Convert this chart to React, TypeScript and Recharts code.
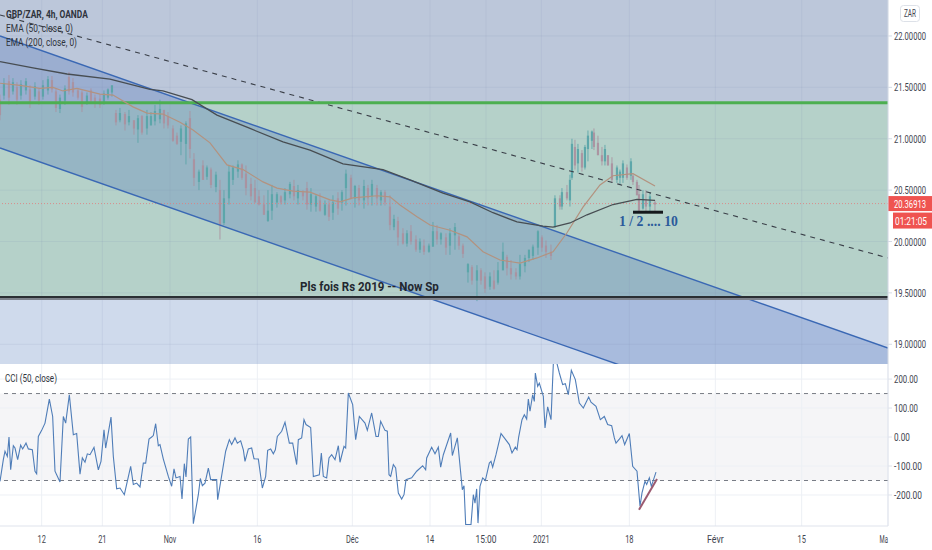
import React from "react";
import { ComposedChart, Line, Bar, Area, XAxis, YAxis, ReferenceArea, ReferenceLine, ReferenceDot } from "recharts";

const FONT = "Roboto, 'Liberation Sans', sans-serif";
const timeTicks = [125, 307, 510, 772, 1057, 1290, 1458, 1624, 1888, 2146, 2405, 2664];
const timeLabels = ["12", "21", "Nov", "16", "Déc", "14", "15:00", "2021", "18", "Févr", "15", "Ma"];
const priceTicks = [19, 19.5, 20, 20.5, 21, 21.5, 22];
const cciTicks = [-200, -100, 0, 100, 200];

// [time, open, close, low, high]
const candles = [
[0,21.38,21.23,21.18,21.43],[12,21.42,21.54,21.38,21.59],[27,21.56,21.40,21.33,21.62],[39,21.46,21.55,21.43,21.59],[51,21.50,21.38,21.33,21.55],[63,21.42,21.53,21.38,21.57],[78,21.47,21.56,21.43,21.59],[90,21.48,21.34,21.30,21.52],[105,21.41,21.51,21.38,21.55],[117,21.46,21.37,21.33,21.49],[129,21.41,21.52,21.38,21.57],[144,21.47,21.58,21.43,21.61],[156,21.57,21.48,21.45,21.61],[168,21.46,21.30,21.26,21.49],[180,21.29,21.40,21.25,21.43],[195,21.37,21.49,21.33,21.52],[207,21.60,21.46,21.43,21.65],[219,21.55,21.45,21.41,21.59],[234,21.47,21.40,21.38,21.49],[246,21.45,21.31,21.26,21.47],[261,21.34,21.42,21.33,21.45],[273,21.47,21.37,21.35,21.49],[285,21.40,21.34,21.30,21.43],[300,21.39,21.33,21.30,21.43],[312,21.36,21.44,21.33,21.47],[324,21.40,21.48,21.38,21.49],[336,21.45,21.52,21.41,21.52],
[348,21.25,21.16,21.13,21.28],[360,21.18,21.25,21.16,21.30],[375,21.24,21.14,21.08,21.26],[387,21.16,21.22,21.13,21.28],[402,21.18,21.10,21.04,21.18],[414,21.09,21.20,20.96,21.23],[426,21.22,21.06,21.04,21.23],[441,21.10,21.22,21.04,21.28],[453,21.13,21.22,21.13,21.26],[465,21.17,21.27,21.13,21.33],[480,21.19,21.29,21.15,21.38],[492,21.28,21.15,21.10,21.28],[504,21.22,21.13,21.10,21.26],[519,21.10,20.98,20.97,21.13],[531,21.03,20.95,20.94,21.06],[543,20.97,21.10,20.84,21.13],[558,20.95,21.15,20.75,21.17],[570,21.20,20.90,20.81,21.27],[582,20.80,20.62,20.54,20.86],[597,20.58,20.68,20.50,20.70],[609,20.74,20.60,20.60,20.79],[621,20.63,20.72,20.60,20.74],[633,20.70,20.55,20.52,20.72],[648,20.53,20.65,20.48,20.68],[660,20.50,20.16,20.02,20.60],[672,20.18,20.42,20.16,20.50],[687,20.42,20.68,20.36,20.74],[699,20.60,20.72,20.55,20.74],[714,20.68,20.75,20.62,20.79],[726,20.75,20.62,20.60,20.76],[738,20.66,20.52,20.45,20.74],[753,20.56,20.44,20.40,20.62],[765,20.52,20.38,20.38,20.60],[777,20.44,20.36,20.35,20.50],[792,20.36,20.26,20.26,20.45],[804,20.20,20.30,20.19,20.50],[816,20.30,20.46,20.21,20.55],[831,20.38,20.46,20.33,20.48],[843,20.44,20.38,20.36,20.45],[855,20.40,20.48,20.36,20.52],[870,20.46,20.56,20.42,20.58],[882,20.54,20.44,20.40,20.60],[894,20.42,20.50,20.36,20.55],[909,20.48,20.44,20.40,20.50],[921,20.52,20.36,20.31,20.58],[933,20.36,20.46,20.29,20.52],[948,20.34,20.44,20.29,20.46],[960,20.40,20.30,20.29,20.47],[975,20.26,20.36,20.25,20.40],[987,20.36,20.24,20.20,20.40],[999,20.28,20.38,20.21,20.45],[1014,20.42,20.32,20.26,20.48],[1026,20.38,20.48,20.30,20.50],[1038,20.52,20.66,20.35,20.70],[1053,20.62,20.42,20.41,20.65],[1065,20.42,20.54,20.33,20.55],[1077,20.52,20.40,20.35,20.55],[1092,20.40,20.54,20.32,20.60],[1104,20.52,20.42,20.35,20.55],[1116,20.44,20.56,20.35,20.60],[1131,20.52,20.42,20.35,20.55],[1143,20.40,20.48,20.35,20.50],[1155,20.48,20.38,20.35,20.50],[1170,20.34,20.16,20.11,20.45],[1182,20.14,20.22,20.11,20.26],[1194,20.20,20.04,19.96,20.24],[1209,20.08,19.98,19.97,20.13],[1221,19.98,20.08,19.95,20.11],[1233,20.10,20.00,19.97,20.16],[1248,20.02,19.92,19.90,20.06],[1260,19.92,20.00,19.89,20.03],[1272,19.96,19.90,19.87,20.02],[1287,19.90,19.96,19.89,19.98],[1299,19.95,20.10,19.95,20.19],[1311,20.10,20.02,19.97,20.16],[1323,20.02,20.08,19.97,20.09],[1338,20.04,19.94,19.87,20.08],[1350,19.96,20.08,19.87,20.13],[1365,20.06,20.14,19.92,20.18],[1377,20.05,19.96,19.92,20.08],[1389,19.96,19.88,19.84,19.98],[1404,19.70,19.78,19.60,19.79],[1416,19.75,19.62,19.58,19.77],[1431,19.62,19.72,19.42,19.77],[1443,19.72,19.62,19.58,19.74],[1455,19.66,19.54,19.50,19.70],[1470,19.56,19.66,19.53,19.70],[1482,19.62,19.54,19.53,19.72],[1494,19.60,19.72,19.58,19.80],[1509,19.72,19.90,19.72,19.99],[1521,19.85,19.74,19.67,19.87],[1533,19.74,19.68,19.63,19.82],[1548,19.70,19.66,19.63,19.74],[1560,19.66,19.78,19.63,19.87],[1575,19.76,19.84,19.70,19.87],[1587,19.84,19.92,19.80,19.92],[1599,19.86,19.95,19.82,19.97],[1614,19.94,20.10,19.87,20.11],[1626,20.04,19.94,19.90,20.06],[1638,19.96,19.90,19.84,20.01],[1653,19.90,19.86,19.82,19.97],[1665,20.14,20.42,20.13,20.45],[1680,20.42,20.34,20.31,20.45],[1686,20.34,20.48,20.31,20.52],[1701,20.48,20.42,20.40,20.55],[1710,20.40,20.60,20.34,20.65],[1716,20.62,20.95,20.60,21.00],[1725,20.92,20.74,20.70,20.99],[1734,20.76,20.90,20.67,20.95],[1746,20.86,20.72,20.68,20.89],[1755,20.72,20.92,20.70,20.94],[1764,20.90,21.03,20.78,21.08],[1776,20.98,21.07,20.90,21.08],[1782,21.06,20.92,20.89,21.10],[1794,20.96,20.84,20.84,21.03],[1806,20.84,20.78,20.74,20.92],[1815,20.78,20.90,20.74,20.94],[1824,20.84,20.74,20.74,20.84],[1836,20.76,20.60,20.57,20.82],[1851,20.60,20.72,20.57,20.74],[1860,20.62,20.68,20.55,20.70],[1869,20.62,20.76,20.57,20.79],[1881,20.72,20.62,20.60,20.75],[1893,20.64,20.78,20.60,20.81],[1899,20.64,20.58,20.55,20.65],[1911,20.58,20.45,20.45,20.60],[1917,20.46,20.30,20.29,20.55],[1929,20.32,20.46,20.31,20.50],[1938,20.40,20.34,20.29,20.50],[1950,20.34,20.44,20.29,20.48],[1965,20.38,20.36,20.29,20.40],
];

const ema200 = [[0,21.75],[99,21.69],[201,21.63],[330,21.58],[450,21.48],[489,21.465],[576,21.38],[651,21.23],[750,21.10],[849,20.97],[930,20.89],[1029,20.755],[1149,20.70],[1230,20.60],[1329,20.47],[1410,20.385],[1479,20.28],[1551,20.19],[1629,20.15],[1659,20.14],[1710,20.18],[1761,20.26],[1839,20.36],[1911,20.41],[1965,20.40]];
const ema50 = [[0,21.54],[60,21.52],[120,21.49],[159,21.50],[189,21.465],[231,21.49],[300,21.435],[339,21.425],[399,21.31],[441,21.25],[489,21.24],[540,21.16],[579,21.085],[630,20.96],[681,20.745],[729,20.70],[789,20.58],[831,20.52],[879,20.49],[930,20.48],[990,20.405],[1020,20.385],[1059,20.425],[1131,20.445],[1170,20.435],[1200,20.355],[1251,20.24],[1290,20.16],[1350,20.11],[1401,20.045],[1449,19.90],[1500,19.82],[1560,19.79],[1611,19.84],[1659,19.90],[1701,20.085],[1749,20.335],[1800,20.55],[1839,20.64],[1899,20.66],[1965,20.54]];
const channelUpper = [[0,22.0],[2664,18.964]];
const channelLower = [[0,20.91],[2664,17.884]];
const trendDashed = [[0,22.204],[2664,19.84]];

const cciPoints = [[0,-153],[10,-78],[15,-49],[22,-67],[27,0],[32,-113],[40,-30],[45,-38],[53,-78],[62,-28],[68,-41],[78,-21],[85,-41],[97,-44],[105,-118],[110,-127],[115,2],[125,23],[135,48],[148,131],[158,71],[165,-118],[180,-155],[190,71],[197,48],[208,146],[220,8],[230,12],[240,-128],[247,-72],[255,-87],[262,-58],[270,-61],[282,-36],[295,-113],[303,-84],[312,25],[317,-38],[333,69],[340,-67],[350,-179],[360,-176],[373,-199],[392,-101],[400,-164],[410,-159],[420,-172],[430,-90],[437,-90],[447,-7],[455,0],[460,5],[467,46],[475,-30],[480,-26],[490,-76],[505,-136],[515,-170],[522,-110],[528,-141],[540,-136],[546,-214],[553,-92],[558,-138],[565,-7],[572,0],[580,-299],[595,-199],[601,-143],[607,-168],[615,-159],[625,-107],[632,-147],[650,-147],[653,-216],[665,-133],[677,-49],[688,-9],[695,-26],[705,-3],[712,-21],[722,-13],[730,-44],[735,-84],[745,-41],[755,-38],[762,-75],[775,-76],[787,-176],[797,-136],[803,-46],[812,-41],[820,-58],[826,-44],[832,2],[845,20],[855,51],[868,-21],[878,-21],[890,-95],[895,-9],[905,-3],[912,60],[918,43],[932,33],[940,-136],[958,-130],[964,-55],[970,-136],[980,-141],[987,-72],[995,-61],[1005,-78],[1015,-30],[1020,-87],[1032,-32],[1037,-38],[1045,152],[1058,112],[1067,-9],[1078,71],[1095,48],[1102,23],[1115,83],[1128,2],[1135,2],[1142,54],[1155,23],[1162,20],[1167,-130],[1172,-136],[1180,-95],[1187,-107],[1195,-193],[1205,-214],[1212,-199],[1218,-147],[1235,-141],[1250,-118],[1268,-99],[1277,-113],[1280,-72],[1295,-35],[1305,-58],[1315,-35],[1322,-104],[1330,-61],[1352,14],[1357,-64],[1372,-3],[1387,-182],[1392,-168],[1397,-302],[1413,-302],[1420,-199],[1425,-228],[1430,-179],[1434,-297],[1440,-170],[1448,-141],[1456,-150],[1468,-90],[1473,-84],[1478,-104],[1488,-61],[1503,12],[1513,-3],[1528,-26],[1536,-55],[1546,-35],[1551,-44],[1556,0],[1566,60],[1573,77],[1580,62],[1585,131],[1590,89],[1598,146],[1603,123],[1606,221],[1613,175],[1618,186],[1630,140],[1635,31],[1643,104],[1653,60],[1660,253],[1668,267],[1678,221],[1688,181],[1696,184],[1705,146],[1714,230],[1726,198],[1738,117],[1750,100],[1766,138],[1773,120],[1788,106],[1801,60],[1813,71],[1823,43],[1835,39],[1843,-3],[1848,-21],[1858,-7],[1866,5],[1874,-26],[1888,12],[1898,-101],[1911,-118],[1920,-239],[1926,-193],[1935,-153],[1940,-164],[1948,-141],[1954,-170],[1968,-121]];
const cciTrend = [[1917,-251],[1971,-145]];

function buildPriceRows() {
  const map = new Map<number, any>();
  const row = (t: number) => { if (!map.has(t)) map.set(t, { t }); return map.get(t); };
  candles.forEach(([t, o, c, l, h]) => Object.assign(row(t), { o, c, l, h }));
  ema200.forEach(([t, v]) => { row(t).ema200 = v; });
  ema50.forEach(([t, v]) => { row(t).ema50 = v; });
  channelUpper.forEach(([t, v]) => { row(t).up = v; });
  channelLower.forEach(([t, v]) => { row(t).lo = v; });
  trendDashed.forEach(([t, v]) => { row(t).dash = v; });
  return [...map.values()].sort((a, b) => a.t - b.t);
}
const priceRows = buildPriceRows();
const channelRows = channelUpper.map(([t, v], i) => ({ t, band: [channelLower[i][1], v] }));
const cciRows = cciPoints.map(([t, v]) => ({ t, cci: v }));
const cciTrendRows = cciTrend.map(([t, v]) => ({ t, tr: v }));

const measureCtx = document.createElement("canvas").getContext("2d") as CanvasRenderingContext2D;
const FitText = ({ x, y, w, size = 11, weight = 400, family = FONT, fill = "#3f4550", anchor = "start", children }: any) => {
  measureCtx.font = `${weight} ${size}px ${family}`;
  const sx = w / measureCtx.measureText(children).width;
  return (
    <text transform={`translate(${x} ${y}) scale(${sx.toFixed(3)} 1)`} fontSize={size} fontWeight={weight} fontFamily={family} fill={fill} textAnchor={anchor}>
      {children}
    </text>
  );
};

const Candle = (p: any) => {
  const r = p.payload;
  if (!r || r.h == null) return null;
  const cx = p.x + p.width / 2;
  const top = Math.min(p.y, p.y + p.height);
  const H = Math.abs(p.height);
  const k = H / (r.h - r.l || 1);
  const by = top + (r.h - Math.max(r.o, r.c)) * k;
  const bh = Math.max(1, Math.abs(r.o - r.c) * k);
  const col = r.c >= r.o ? "#5aa5a8" : "#aa919f";
  return (
    <g>
      <rect x={cx - 0.5} y={top} width={1} height={H} fill={col} opacity={0.85} />
      <rect x={cx - 1.1} y={by} width={2.2} height={bh} fill={col} opacity={0.92} />
    </g>
  );
};

const PriceTick = (p: any) => <FitText x={p.x} y={p.y + 4} w={32}>{p.payload.value.toFixed(5)}</FitText>;
const CciTick = (p: any) => {
  const s = p.payload.value.toFixed(2);
  return <FitText x={p.x} y={p.y + 4} w={s.length * 4}>{s}</FitText>;
};
const TimeTick = (p: any) => {
  const s = timeLabels[timeTicks.indexOf(p.payload.value)];
  const last = p.payload.value === 2664;
  return <FitText x={p.x} y={p.y + 9} w={s.length * 4.2} anchor={last ? "end" : "middle"}>{s}</FitText>;
};

const LastPriceLabel = (p: any) => {
  const y = p.viewBox.y;
  return (
    <g>
      <rect x={888} y={y - 7.5} width={44} height={15} fill="#ef5350" />
      <FitText x={894} y={y + 4} w={32} fill="#fff">20.36913</FitText>
      <rect x={893} y={y + 9} width={39} height={16} fill="#ef5350" />
      <FitText x={895} y={y + 21} w={32} fill="#fff">01:21:05</FitText>
    </g>
  );
};
const NoteA = (p: any) => <FitText x={p.viewBox.x} y={p.viewBox.y + 4} w={139} size={12} weight={700} fill="#23272f">Pls fois Rs 2019 -- Now Sp</FitText>;
const NoteB = (p: any) => <FitText x={p.viewBox.x} y={p.viewBox.y + 5} w={59} size={14} weight={700} family="'Liberation Serif', serif" fill="#2b5a9b">1 / 2 .... 10</FitText>;

const gridStroke = "rgba(120,140,175,0.13)";

export default function App() {
  return (
    <div style={{ position: "absolute", left: 0, top: 0, width: 932, height: 550, background: "#fff", overflow: "hidden" }}>
      <div style={{ position: "absolute", left: 0, top: 0 }}>
        <ComposedChart width={932} height={364} data={priceRows} margin={{ top: 0, right: 0, bottom: 0, left: 0 }}>
          <XAxis type="number" dataKey="t" domain={[0, 2664]} hide allowDataOverflow />
          <YAxis orientation="right" width={44} domain={[18.808, 22.35]} ticks={priceTicks} tick={<PriceTick />} tickSize={4} tickMargin={2} interval={0} stroke="#d6dce6" allowDataOverflow />
          <ReferenceArea y1={21.35} y2={22.35} fill="#bcc7da" fillOpacity={1} stroke="none" />
          <ReferenceArea y1={19.46} y2={21.35} fill="#b5d1c9" fillOpacity={1} stroke="none" />
          <ReferenceArea y1={18.808} y2={19.46} fill="#cfdaec" fillOpacity={1} stroke="none" />
          {timeTicks.map((t) => <ReferenceLine key={"vx" + t} x={t} stroke={gridStroke} />)}
          {priceTicks.map((p) => <ReferenceLine key={"hy" + p} y={p} stroke={gridStroke} />)}
          <Area data={channelRows} dataKey="band" type="linear" stroke="none" fill="rgb(78,115,185)" fillOpacity={0.3} dot={false} activeDot={false} isAnimationActive={false} connectNulls />
          <ReferenceLine y={20.36913} stroke="#e27d7d" strokeDasharray="1 2" strokeOpacity={0.8} label={<LastPriceLabel />} />
          <Line dataKey="up" stroke="#3a68b4" strokeWidth={1.4} dot={false} activeDot={false} connectNulls isAnimationActive={false} />
          <Line dataKey="lo" stroke="#3a68b4" strokeWidth={1.4} dot={false} activeDot={false} connectNulls isAnimationActive={false} />
          <Line dataKey="dash" stroke="#3a3f48" strokeWidth={1.1} strokeDasharray="5 5" dot={false} activeDot={false} connectNulls isAnimationActive={false} />
          <ReferenceLine y={21.35} stroke="#4caf50" strokeWidth={3} />
          <ReferenceLine y={19.44} stroke="#7d828c" strokeWidth={2} />
          <ReferenceLine y={19.46} stroke="#2a2e33" strokeWidth={2} />
          <Bar dataKey={(r: any) => (r.h == null ? null : [r.l, r.h])} barSize={3} shape={<Candle />} isAnimationActive={false} />
          <Line dataKey="ema50" stroke="#b3927f" strokeWidth={1.2} dot={false} activeDot={false} connectNulls isAnimationActive={false} />
          <Line dataKey="ema200" stroke="#474d52" strokeWidth={1.3} dot={false} activeDot={false} connectNulls isAnimationActive={false} />
          <ReferenceLine segment={[{ x: 1899, y: 20.285 }, { x: 1989, y: 20.285 }]} stroke="#15181c" strokeWidth={3} />
          <ReferenceDot x={900} y={19.56} r={0} stroke="none" fill="none" label={<NoteA />} />
          <ReferenceDot x={1857} y={20.2} r={0} stroke="none" fill="none" label={<NoteB />} />
        </ComposedChart>
      </div>
      <div style={{ position: "absolute", left: 0, top: 364 }}>
        <ComposedChart width={932} height={186} data={cciRows} margin={{ top: 0, right: 0, bottom: 0, left: 0 }}>
          <XAxis type="number" dataKey="t" domain={[0, 2664]} ticks={timeTicks} tick={<TimeTick />} interval={0} height={24} tickLine={false} stroke="#dfe3ec" allowDataOverflow />
          <YAxis orientation="right" width={44} domain={[-307, 252]} ticks={cciTicks} tick={<CciTick />} tickSize={4} tickMargin={2} interval={0} stroke="#dfe3ec" allowDataOverflow />
          <ReferenceArea y1={-150} y2={150} fill="#f5f5f7" fillOpacity={1} stroke="none" />
          {timeTicks.map((t) => <ReferenceLine key={"cx" + t} x={t} stroke="#edf0f5" />)}
          {cciTicks.map((v) => <ReferenceLine key={"cy" + v} y={v} stroke="#edf0f5" />)}
          <ReferenceLine y={150} stroke="#787c85" strokeDasharray="4 4" />
          <ReferenceLine y={-150} stroke="#787c85" strokeDasharray="4 4" />
          <Line dataKey="cci" stroke="#4f7db8" strokeWidth={1.1} dot={false} activeDot={false} isAnimationActive={false} />
          <Line data={cciTrendRows} dataKey="tr" stroke="#9b5a70" strokeWidth={2} dot={false} activeDot={false} isAnimationActive={false} />
        </ComposedChart>
      </div>
      <svg width={932} height={550} style={{ position: "absolute", left: 0, top: 0, pointerEvents: "none" }}>
        <FitText x={6} y={18} w={82} weight={700} fill="#2f343d">GBP/ZAR, 4h, OANDA</FitText>
        <FitText x={6} y={32} w={67} fill="#2f343d">EMA (50, close, 0)</FitText>
        <FitText x={6} y={46} w={71} fill="#2f343d">EMA (200, close, 0)</FitText>
        <FitText x={5} y={382} w={52} fill="#2f343d">CCI (50, close)</FitText>
        <rect x={900.5} y={5.5} width={19} height={16} rx={3} fill="#fff" stroke="#dde1e8" />
        <FitText x={904} y={17} w={12} size={10}>ZAR</FitText>
      </svg>
    </div>
  );
}
